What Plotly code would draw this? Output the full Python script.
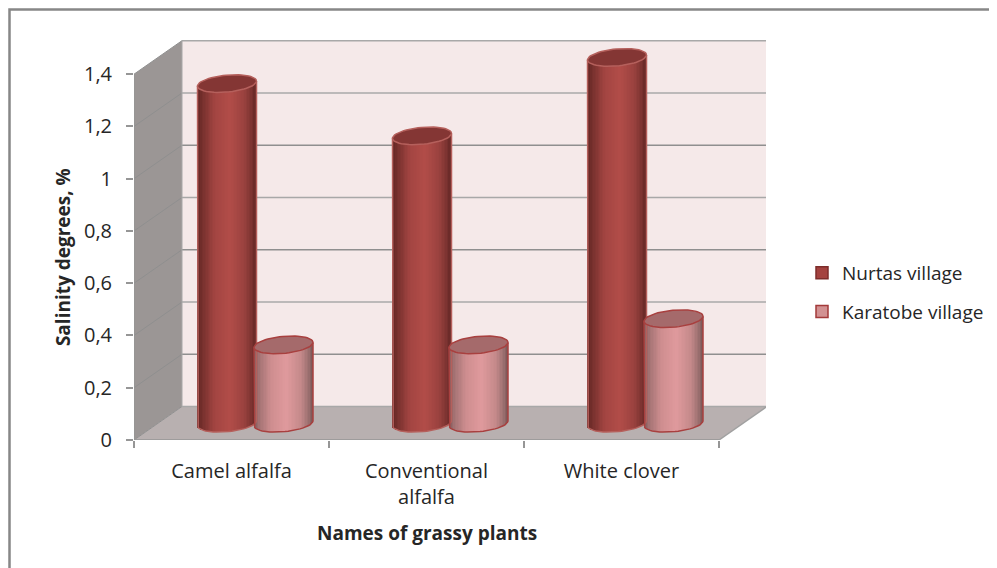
"""3D style cylinder chart: salinity of grassy plants in two villages."""
import numpy as np
import plotly.graph_objects as go

CATEGORIES = ["Camel alfalfa", "Conventional<br>alfalfa", "White clover"]
NURTAS = [1.3, 1.1, 1.4]
KARATOBE = [0.3, 0.3, 0.4]
Y_TICKS = [0, 0.2, 0.4, 0.6, 0.8, 1.0, 1.2, 1.4]
Y_LABELS = ["0", "0,2", "0,4", "0,6", "0,8", "1", "1,2", "1,4"]

FONT = "Open Sans"
# the page keeps its default 8px body margin, so the figure is that much smaller
W, H = 989, 560
M_L, M_R, M_T, M_B = 126, 231, 32, 128
PX_X = 195.0  # pixels per category
PX_Y = 261.3  # pixels per 1.0 on the value axis
DX = 48 / PX_X  # depth offset of the back wall
DY = 33.5 / PX_Y
X_MAX = (W - M_L - M_R) / PX_X
Y_MAX = (H - M_T - M_B) / PX_Y

NURTAS_OFFSET = -28.5 / PX_X
KARATOBE_OFFSET = 28 / PX_X
RX = 29.5 / PX_X
RY = 8.5 / PX_Y
TILT = 2.5 / PX_Y
N_STRIPS = 40

NURTAS_STOPS = [(0, "#5f2422"), (0.08, "#76302d"), (0.3, "#a34542"), (0.55, "#b24d49"),
                (0.8, "#9a423f"), (0.93, "#7a3230"), (1, "#5d2422")]
KARATOBE_STOPS = [(0, "#80595a"), (0.1, "#a77576"), (0.3, "#cf8e90"), (0.55, "#e09a9d"),
                  (0.8, "#c58a8b"), (0.93, "#9c7070"), (1, "#7a5656")]


def stop_color(stops, p):
    rgb = [[int(c[i:i + 2], 16) for i in (1, 3, 5)] for _, c in stops]
    pos = [s[0] for s, _ in zip(stops, rgb)]
    vals = [np.interp(p, pos, [c[k] for c in rgb]) for k in range(3)]
    return "rgb(%d,%d,%d)" % tuple(vals)


def cylinder_bars(values, offset, stops, name):
    xs, tops, bases, colors = [], [], [], []
    for i, v in enumerate(values):
        cx = i + 0.5 + DX / 2 + offset
        for j in range(N_STRIPS):
            t = -1 + 2 * (j + 0.5) / N_STRIPS
            mid = DY / 2 + TILT * t
            low = mid - RY * np.sqrt(1 - t * t)
            xs.append(cx + RX * t)
            bases.append(low)
            tops.append(mid + v - low)
            colors.append(stop_color(stops, (t + 1) / 2))
    return go.Bar(x=xs, y=tops, base=bases, width=RX * 2 / N_STRIPS * 1.4,
                  marker=dict(color=colors, line=dict(width=0)),
                  name=name, showlegend=False, hoverinfo="skip")


def cap_trace(value, cx, fill, edge):
    t = np.linspace(0, 2 * np.pi, 60)
    x = cx + RX * np.cos(t)
    y = DY / 2 + value + TILT * np.cos(t) + RY * np.sin(t)
    return go.Scatter(x=x, y=y, mode="lines", fill="toself", fillcolor=fill,
                      line=dict(color=edge, width=1.5), showlegend=False, hoverinfo="skip")


def outline_trace(value, cx, edge):
    t = np.linspace(np.pi, 2 * np.pi, 30)
    x = np.concatenate([[cx - RX], cx + RX * np.cos(t), [cx + RX]])
    y = DY / 2 + TILT * np.cos(t) + RY * np.sin(t)
    y = np.concatenate([[DY / 2 + value - TILT], y, [DY / 2 + value + TILT]])
    return go.Scatter(x=x, y=y, mode="lines", line=dict(color=edge, width=1.5),
                      showlegend=False, hoverinfo="skip")


fig = go.Figure()
fig.add_trace(cylinder_bars(NURTAS, NURTAS_OFFSET, NURTAS_STOPS, "Nurtas village"))
fig.add_trace(cylinder_bars(KARATOBE, KARATOBE_OFFSET, KARATOBE_STOPS, "Karatobe village"))

for i, v in enumerate(NURTAS):
    cx = i + 0.5 + DX / 2 + NURTAS_OFFSET
    fig.add_trace(outline_trace(v, cx, "#b5605c"))
    fig.add_trace(cap_trace(v, cx, "#843634", "#b5605c"))
for i, v in enumerate(KARATOBE):
    cx = i + 0.5 + DX / 2 + KARATOBE_OFFSET
    fig.add_trace(outline_trace(v, cx, "#a8403f"))
    fig.add_trace(cap_trace(v, cx, "#a56a6b", "#a8403f"))

# legend entries only
fig.add_trace(go.Bar(x=[None], y=[None], name="Nurtas village", legendgroup="a",
                     marker=dict(color="#a4423f", line=dict(color="#7d2d2b", width=1.5))))
fig.add_trace(go.Bar(x=[None], y=[None], name="Karatobe village", legendgroup="b",
                     marker=dict(color="#d29192", line=dict(color="#a33a3a", width=1.5))))

# walls and floor
top = Y_TICKS[-1]
shapes = [
    dict(type="path", path=f"M 0 0 L {DX} {DY} L {DX} {top + DY} L 0 {top} Z",
         fillcolor="#9b9695", line=dict(width=0), layer="below"),
    dict(type="rect", x0=DX, x1=3 + DX, y0=DY, y1=top + DY,
         fillcolor="#f5e9e9", line=dict(width=0), layer="below"),
    dict(type="path", path=f"M 0 0 L 3 0 L {3 + DX} {DY} L {DX} {DY} Z",
         fillcolor="#b8b0b0", line=dict(width=0), layer="below"),
]
for i, v in enumerate(Y_TICKS):
    grid = dict(color="#8f8f8f" if 0 < i < 7 and i % 2 else "#a8a8a8", width=1.5)
    shapes.append(dict(type="line", x0=DX, x1=3 + DX, y0=v + DY, y1=v + DY,
                       line=grid, layer="below"))
    shapes.append(dict(type="line", x0=0, x1=DX, y0=v, y1=v + DY,
                       line=dict(color="#8f8f8f", width=1), layer="below"))
shapes.append(dict(type="line", x0=0, x1=0, y0=0, y1=top, line=dict(color="#969696", width=1.5)))
shapes.append(dict(type="line", x0=0, x1=3, y0=0, y1=0, line=dict(color="#969696", width=1.5)))
shapes.append(dict(type="line", x0=3, x1=3 + DX, y0=0, y1=DY, line=dict(color="#a0a0a0", width=1.5)))
shapes.append(dict(type="line", x0=DX, x1=DX, y0=0 + DY, y1=top + DY, line=dict(color="#a8a8a8", width=1)))

# outer frame of the picture, open on the right and at the bottom
plot_w = W - M_L - M_R
plot_h = H - M_T - M_B
fx = (1.5 - M_L) / plot_w
fy = (H - 1.5 - M_B) / plot_h
shapes.append(dict(type="path", xref="paper", yref="paper",
                   path=f"M {fx} {-M_B / plot_h} L {fx} {fy} L {(W - M_L) / plot_w} {fy}",
                   line=dict(color="#878787", width=2.5)))

fig.update_layout(
    width=W, height=H, autosize=False,
    margin=dict(l=M_L, r=M_R, t=M_T, b=M_B, pad=0, autoexpand=False),
    paper_bgcolor="white", plot_bgcolor="rgba(0,0,0,0)",
    barmode="overlay", bargap=0,
    font=dict(family=FONT, size=20, color="#262626"),
    shapes=shapes,
    xaxis=dict(range=[0, X_MAX], tickmode="array", tickvals=[0.5, 1.5, 2.5], ticktext=CATEGORIES,
               ticks="", ticklabelstandoff=17, showgrid=False, zeroline=False, showline=False,
               minor=dict(tickmode="array", tickvals=[0, 1, 2, 3], ticks="outside", ticklen=7,
                          tickcolor="#969696", tickwidth=1.5, showgrid=False)),
    yaxis=dict(range=[0, Y_MAX], tickmode="array", tickvals=Y_TICKS, ticktext=Y_LABELS,
               ticks="outside", ticklen=7, tickcolor="#969696", tickwidth=1.5,
               ticklabelstandoff=10, showgrid=False, zeroline=False, showline=False),
    legend=dict(x=(794 - M_L) / plot_w, y=(H - 246 - M_B) / plot_h, xanchor="left", yanchor="top",
                bgcolor="rgba(0,0,0,0)", tracegroupgap=11, font=dict(size=19)),
    annotations=[
        dict(text="<b>Names of grassy plants</b>", x=1.5, y=0, xref="x", yref="y", showarrow=False,
             yshift=-93, font=dict(size=19)),
        dict(text="<b>Salinity degrees, %</b>", xref="x", yref="y", x=0, y=0.7, showarrow=False,
             xshift=-71, textangle=-90, font=dict(size=19)),
    ],
)

fig.write_html("out.html")
